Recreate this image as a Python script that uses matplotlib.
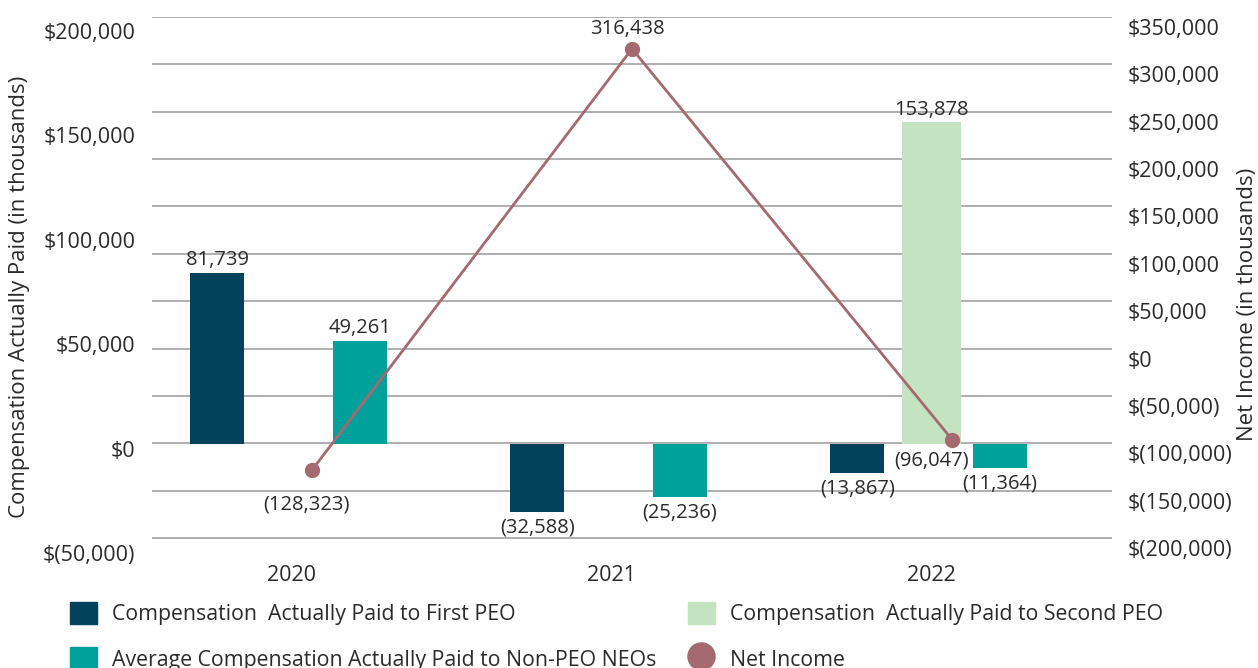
import matplotlib
matplotlib.use("Agg")
import matplotlib.pyplot as plt
from matplotlib.patches import Patch
from matplotlib.lines import Line2D
from matplotlib.transforms import ScaledTranslation

plt.rcParams['font.family'] = ['Open Sans', 'DejaVu Sans']

# data (in thousands)
years = ['2020', '2021', '2022']
first_peo = [81739, -32588, -13867]
second_peo = [0, 0, 153878]
non_peo = [49261, -25236, -11364]
net_income = [-128323, 316438, -96047]

left_ticks = [-50000, 0, 50000, 100000, 150000, 200000]
right_ticks = [-200000, -150000, -100000, -50000, 0, 50000, 100000,
               150000, 200000, 250000, 300000, 350000]

c_first = '#02425A'
c_second = '#C4E3C0'
c_non = '#00A19B'
c_net = '#A56A70'
c_text = '#2B2B2B'
c_grid = '#A9A9A9'


def money(v):
    return f"${v:,.0f}" if v >= 0 else f"$({-v:,.0f})"


def num(v):
    return f"{v:,.0f}" if v >= 0 else f"({-v:,.0f})"


fig = plt.figure(figsize=(12.58, 6.68), dpi=100)
ax1 = fig.add_axes([0.1208, 0.1789, 0.7632, 0.7957])
ax2 = ax1.twinx()   # right scale, gridlines (bottom layer)
ax3 = ax1.twinx()   # right scale, net income line (top layer)
ax2.set_zorder(0)
ax1.set_zorder(1)
ax3.set_zorder(2)
ax1.patch.set_visible(False)
ax3.patch.set_visible(False)

x = list(range(len(years)))
w = 0.168
off = [-0.296, -0.065, 0.15]
ax1.bar([i + off[0] for i in x], first_peo, w, color=c_first)
ax1.bar([i + off[1] for i in x], second_peo, 0.185, color=c_second)
ax1.bar([i + off[2] for i in x], non_peo, w, color=c_non)

ax1.set_xlim(-0.5, 2.5)
ax1.set_ylim(-50000, 204300)
ax2.set_ylim(-211085, 350000)
ax3.set_ylim(-211085, 350000)

# bar value labels
for series, o in [(first_peo, off[0]), (second_peo, off[1]), (non_peo, off[2])]:
    for i, v in enumerate(series):
        if v == 0:
            continue
        dy = 2 if v > 0 else -4
        ax1.annotate(num(v), (i + o, v), xytext=(0, dy), textcoords='offset points',
                     ha='center', va='bottom' if v > 0 else 'top',
                     fontsize=14.5, color=c_text)

# net income line
ax3.plot(x, net_income, color=c_net, lw=2, marker='o', markersize=10)
ni_off = [(-4, -25), (-3, 14), (-15, -15)]
for i, v in enumerate(net_income):
    ax3.annotate(num(v), (i, v), xytext=ni_off[i], textcoords='offset points',
                 ha='center', va='center', fontsize=14.5, color=c_text)

# axes styling
for a in (ax1, ax2, ax3):
    for s in a.spines.values():
        s.set_visible(False)
    a.tick_params(length=0)

ax2.set_yticks(right_ticks)
ax2.yaxis.grid(True, color=c_grid, lw=1.3)
ax2.set_yticklabels([money(v) for v in right_ticks], fontsize=15.5, color=c_text)
ax2.tick_params(axis='y', pad=11)
ax2.set_xticks([])
for lab in ax2.get_yticklabels():
    lab.set_transform(lab.get_transform() + ScaledTranslation(0, -0.10, fig.dpi_scale_trans))
ax2.set_ylabel('Net Income (in thousands)', fontsize=16, color=c_text,
               rotation=90, ha='center', va='center')
ax2.yaxis.set_label_coords(1.1406, 0.46)

ax3.set_yticks([])
ax3.set_xticks([])

ax1.set_yticks(left_ticks)
ax1.set_yticklabels([money(v) for v in left_ticks], fontsize=15.5, color=c_text)
ax1.tick_params(axis='y', pad=12)
for lab in ax1.get_yticklabels():
    lab.set_transform(lab.get_transform() + ScaledTranslation(0, -0.05, fig.dpi_scale_trans))
ax1.set_ylabel('Compensation Actually Paid (in thousands)', fontsize=16, color=c_text,
               ha='center', va='center')
ax1.yaxis.set_label_coords(-0.1375, 0.473)
ax1.set_xticks([i - 0.065 for i in x])
ax1.set_xticklabels(years, fontsize=15.5, color=c_text)
ax1.tick_params(axis='x', pad=12)

handles = [
    Patch(color=c_first, label='Compensation  Actually Paid to First PEO'),
    Patch(color=c_non, label='Average Compensation Actually Paid to Non-PEO NEOs'),
    Patch(color=c_second, label='Compensation  Actually Paid to Second PEO'),
    Line2D([], [], marker='o', ls='none', markersize=19.5, color=c_net, label='Net Income'),
]
fig.legend(handles=handles, loc='upper left', bbox_to_anchor=(0.0556, 0.0995),
           ncol=2, frameon=False, fontsize=15.3, handlelength=1.27, handleheight=1.27,
           handletextpad=0.72, columnspacing=1.46, labelspacing=1.04,
           borderpad=0, borderaxespad=0, labelcolor=c_text)

fig.savefig('out.png', dpi=100)
